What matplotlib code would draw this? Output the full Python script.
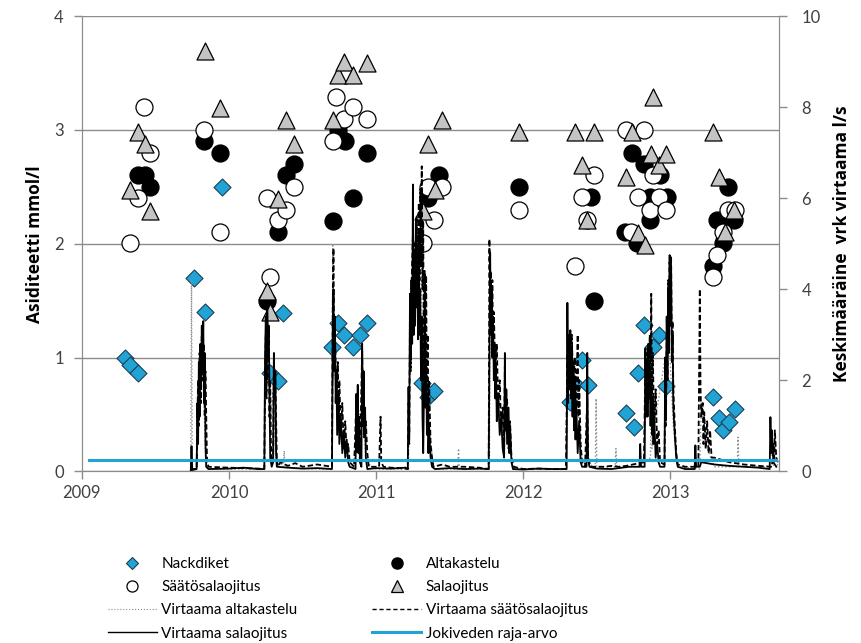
import matplotlib
matplotlib.use("Agg")
import matplotlib.pyplot as plt
from matplotlib.lines import Line2D

plt.rcParams['font.family'] = ['Lato', 'DejaVu Sans']

# acidity samples: decimal year, mmol/l (left axis)
nack_t = [2009.29, 2009.33, 2009.38, 2009.76, 2009.84, 2009.95, 2010.28, 2010.33, 2010.37,
          2010.70, 2010.74, 2010.78, 2010.84, 2010.89, 2010.94, 2011.31, 2011.35, 2011.39,
          2012.32, 2012.35, 2012.40, 2012.44, 2012.70, 2012.75, 2012.78, 2012.82, 2012.88,
          2012.92, 2012.97, 2013.29, 2013.33, 2013.36, 2013.40, 2013.44]
nack_v = [1.00, 0.93, 0.86, 1.70, 1.40, 2.50, 0.86, 0.79, 1.39,
          1.09, 1.30, 1.20, 1.09, 1.20, 1.30, 0.78, 0.65, 0.71,
          0.61, 0.77, 0.98, 0.76, 0.51, 0.39, 0.86, 1.29, 1.09,
          1.20, 0.75, 0.65, 0.47, 0.36, 0.43, 0.55]

alta_t = [2009.38, 2009.43, 2009.46, 2009.83, 2009.94, 2010.26, 2010.33, 2010.39, 2010.44,
          2010.71, 2010.74, 2010.79, 2010.84, 2010.94, 2011.35, 2011.43, 2011.97, 2012.46,
          2012.48, 2012.69, 2012.74, 2012.77, 2012.82, 2012.86, 2012.86, 2012.93, 2012.98,
          2013.29, 2013.32, 2013.36, 2013.39, 2013.43]
alta_v = [2.60, 2.60, 2.50, 2.90, 2.80, 1.50, 2.10, 2.60, 2.70,
          2.20, 3.00, 2.90, 2.40, 2.80, 2.40, 2.60, 2.50, 2.41,
          1.50, 2.10, 2.80, 2.01, 2.70, 2.41, 2.21, 2.60, 2.41,
          1.80, 2.21, 2.01, 2.50, 2.21]

saato_t = [2009.33, 2009.38, 2009.42, 2009.46, 2009.83, 2009.94, 2010.26, 2010.28, 2010.33,
           2010.39, 2010.44, 2010.71, 2010.73, 2010.78, 2010.84, 2010.94, 2011.32, 2011.35,
           2011.39, 2011.45, 2011.97, 2012.35, 2012.40, 2012.43, 2012.48, 2012.70, 2012.73,
           2012.78, 2012.82, 2012.86, 2012.88, 2012.92, 2012.97, 2013.29, 2013.32, 2013.36,
           2013.39, 2013.44]
saato_v = [2.01, 2.40, 3.20, 2.80, 3.00, 2.10, 2.40, 1.71, 2.21,
           2.30, 2.50, 2.90, 3.29, 3.10, 3.20, 3.10, 2.01, 2.50,
           2.21, 2.50, 2.30, 1.80, 2.41, 2.21, 2.60, 3.00, 2.10,
           2.41, 3.00, 2.30, 2.60, 2.41, 2.30, 1.71, 1.90, 2.10,
           2.30, 2.30]

sala_t = [2009.33, 2009.38, 2009.43, 2009.46, 2009.84, 2009.94, 2010.26, 2010.28, 2010.33,
          2010.39, 2010.44, 2010.71, 2010.74, 2010.78, 2010.84, 2010.94, 2011.32, 2011.35,
          2011.40, 2011.45, 2011.97, 2012.35, 2012.40, 2012.43, 2012.48, 2012.70, 2012.74,
          2012.78, 2012.83, 2012.87, 2012.88, 2012.92, 2012.97, 2013.29, 2013.33, 2013.37,
          2013.43]
sala_v = [2.47, 2.98, 2.88, 2.29, 3.69, 3.19, 1.58, 1.40, 2.39,
          3.09, 2.88, 3.09, 3.48, 3.60, 3.48, 3.59, 2.29, 2.88,
          2.47, 3.09, 2.98, 2.98, 2.69, 2.21, 2.98, 2.59, 2.98,
          2.09, 1.99, 2.79, 3.29, 2.69, 2.79, 2.98, 2.59, 2.10,
          2.30]

# daily mean flows l/s (right axis), turning points
q_alta = [
    (2009.74, 0.0), (2009.745, 4.2), (2009.75, 0.05), (2009.78, 0.05), (2009.79, 1.5),
    (2009.80, 2.5), (2009.81, 1.8), (2009.82, 2.8), (2009.83, 1.5), (2009.84, 0.3),
    (2009.86, 0.05), (2010.1, 0.05), (2010.24, 0.05), (2010.25, 2.5), (2010.26, 3.0),
    (2010.27, 2.6), (2010.28, 1.0), (2010.30, 1.8), (2010.32, 0.3), (2010.37, 0.1),
    (2010.375, 0.45), (2010.38, 0.1), (2010.5, 0.06), (2010.70, 0.05), (2010.705, 5.0),
    (2010.71, 2.0), (2010.72, 2.5), (2010.74, 1.0), (2010.76, 0.8), (2010.80, 0.3),
    (2010.85, 0.1), (2010.87, 1.0), (2010.91, 1.6), (2010.93, 0.2), (2011.0, 0.05),
    (2011.22, 0.05), (2011.23, 2.5), (2011.26, 4.0), (2011.30, 4.5), (2011.33, 2.0),
    (2011.36, 1.0), (2011.39, 0.05), (2011.555, 0.05), (2011.56, 0.5), (2011.565, 0.05),
    (2011.77, 0.05), (2011.775, 3.5), (2011.80, 2.5), (2011.85, 1.0), (2011.90, 0.8),
    (2011.93, 0.05), (2012.29, 0.05), (2012.30, 2.5), (2012.35, 2.2), (2012.40, 0.2),
    (2012.49, 0.1), (2012.495, 1.6), (2012.50, 0.1), (2012.625, 0.1), (2012.63, 0.5),
    (2012.635, 0.1), (2012.79, 0.1), (2012.795, 0.6), (2012.80, 0.1), (2012.865, 0.3),
    (2012.87, 3.9), (2012.875, 0.5), (2012.90, 1.2), (2012.99, 3.0), (2013.02, 1.0),
    (2013.05, 0.1), (2013.2, 0.05), (2013.21, 1.5), (2013.25, 0.5), (2013.30, 0.1),
    (2013.455, 0.1), (2013.46, 0.75), (2013.465, 0.1), (2013.70, 0.1), (2013.71, 0.5),
    (2013.73, 0.1)]

q_saato = [
    (2009.74, 0.02), (2009.78, 0.05), (2009.785, 1.2), (2009.79, 2.0), (2009.795, 1.0),
    (2009.80, 2.6), (2009.81, 1.5), (2009.815, 3.0), (2009.82, 2.0), (2009.83, 2.8),
    (2009.835, 1.2), (2009.84, 2.2), (2009.85, 0.3), (2009.86, 0.1), (2010.0, 0.08),
    (2010.1, 0.07), (2010.2, 0.06), (2010.24, 0.05), (2010.245, 2.0), (2010.25, 3.0),
    (2010.255, 1.6), (2010.26, 3.3), (2010.265, 2.5), (2010.27, 3.0), (2010.275, 1.2),
    (2010.28, 2.0), (2010.285, 0.6), (2010.29, 0.2), (2010.30, 0.3), (2010.305, 2.4),
    (2010.31, 1.6), (2010.315, 2.0), (2010.325, 0.3), (2010.33, 0.1), (2010.35, 0.2),
    (2010.4, 0.12), (2010.45, 0.18), (2010.5, 0.1), (2010.6, 0.15), (2010.70, 0.1),
    (2010.705, 3.6), (2010.71, 4.9), (2010.715, 2.5), (2010.72, 3.0), (2010.73, 1.6),
    (2010.74, 2.4), (2010.745, 1.0), (2010.75, 2.0), (2010.76, 0.8), (2010.77, 1.5),
    (2010.78, 0.5), (2010.79, 1.1), (2010.80, 0.4), (2010.81, 0.6), (2010.82, 0.2),
    (2010.85, 0.1), (2010.865, 1.5), (2010.87, 0.4), (2010.88, 1.1), (2010.89, 0.2),
    (2010.905, 2.7), (2010.91, 1.2), (2010.915, 2.0), (2010.92, 0.7), (2010.93, 1.1),
    (2010.94, 0.4), (2010.95, 0.1), (2011.02, 0.1), (2011.03, 1.2), (2011.035, 0.2),
    (2011.05, 0.1), (2011.1, 0.08), (2011.2, 0.06), (2011.215, 0.05), (2011.22, 1.5),
    (2011.225, 0.6), (2011.23, 3.5), (2011.235, 2.2), (2011.24, 4.0), (2011.25, 5.2),
    (2011.255, 3.0), (2011.26, 5.0), (2011.27, 4.0), (2011.275, 5.6), (2011.28, 3.8),
    (2011.29, 5.9), (2011.295, 4.2), (2011.30, 6.2), (2011.305, 4.5), (2011.31, 6.7),
    (2011.315, 4.0), (2011.32, 5.5), (2011.325, 2.0), (2011.33, 4.4), (2011.335, 2.5),
    (2011.34, 4.3), (2011.345, 1.5), (2011.35, 3.0), (2011.355, 0.8), (2011.36, 2.0),
    (2011.37, 0.6), (2011.38, 0.3), (2011.39, 0.1), (2011.45, 0.15), (2011.5, 0.1),
    (2011.6, 0.1), (2011.7, 0.08), (2011.765, 0.05), (2011.77, 5.1), (2011.775, 3.5),
    (2011.78, 4.4), (2011.785, 3.0), (2011.79, 4.2), (2011.795, 2.6), (2011.80, 3.5),
    (2011.81, 2.2), (2011.82, 2.8), (2011.83, 1.4), (2011.84, 2.0), (2011.85, 0.9),
    (2011.86, 1.4), (2011.87, 0.5), (2011.875, 2.3), (2011.88, 1.0), (2011.89, 1.6),
    (2011.90, 0.5), (2011.91, 1.1), (2011.92, 0.3), (2011.935, 0.1), (2012.0, 0.05),
    (2012.1, 0.06), (2012.2, 0.05), (2012.29, 0.05), (2012.30, 2.6), (2012.305, 1.8),
    (2012.31, 3.0), (2012.32, 2.2), (2012.33, 3.0), (2012.34, 1.8), (2012.35, 2.5),
    (2012.36, 1.4), (2012.37, 3.0), (2012.375, 1.2), (2012.38, 2.0), (2012.39, 0.6),
    (2012.40, 0.2), (2012.42, 0.1), (2012.435, 1.6), (2012.44, 0.3), (2012.46, 0.1),
    (2012.55, 0.1), (2012.6, 0.12), (2012.65, 0.1), (2012.7, 0.12), (2012.82, 0.2),
    (2012.83, 2.3), (2012.835, 1.2), (2012.84, 2.6), (2012.85, 1.5), (2012.86, 3.0),
    (2012.865, 1.8), (2012.87, 3.9), (2012.875, 1.5), (2012.88, 2.6), (2012.89, 1.0),
    (2012.90, 1.8), (2012.91, 0.6), (2012.92, 0.9), (2012.93, 0.2), (2012.96, 0.15),
    (2012.965, 2.0), (2012.97, 1.0), (2012.975, 3.0), (2012.98, 2.0), (2012.985, 4.2),
    (2012.99, 3.0), (2012.995, 4.6), (2013.00, 3.6), (2013.005, 4.7), (2013.01, 2.6),
    (2013.015, 3.3), (2013.02, 1.8), (2013.03, 1.0), (2013.04, 0.4), (2013.05, 0.15),
    (2013.1, 0.1), (2013.19, 0.1), (2013.195, 2.0), (2013.20, 4.0), (2013.205, 1.8),
    (2013.21, 1.2), (2013.22, 1.5), (2013.225, 0.6), (2013.23, 1.3), (2013.24, 0.5),
    (2013.25, 1.1), (2013.26, 0.4), (2013.27, 0.9), (2013.28, 0.3), (2013.30, 0.3),
    (2013.35, 0.25), (2013.4, 0.2), (2013.5, 0.15), (2013.6, 0.12), (2013.69, 0.1),
    (2013.70, 0.6), (2013.705, 0.2), (2013.71, 0.9), (2013.72, 0.3), (2013.73, 0.2)]

q_sala = [
    (2009.74, 0.0), (2009.745, 0.55), (2009.75, 0.05), (2009.78, 0.05), (2009.785, 1.5),
    (2009.79, 0.6), (2009.795, 2.4), (2009.80, 1.2), (2009.805, 2.8), (2009.81, 1.9),
    (2009.815, 3.2), (2009.82, 2.2), (2009.825, 3.3), (2009.83, 1.5), (2009.835, 2.6),
    (2009.84, 0.6), (2009.845, 0.1), (2009.86, 0.05), (2010.0, 0.06), (2010.1, 0.08),
    (2010.2, 0.05), (2010.24, 0.05), (2010.245, 2.5), (2010.25, 3.4), (2010.255, 2.0),
    (2010.26, 3.6), (2010.265, 2.8), (2010.27, 3.2), (2010.275, 1.8), (2010.28, 0.3),
    (2010.29, 0.1), (2010.30, 0.2), (2010.305, 2.6), (2010.31, 1.6), (2010.315, 2.2),
    (2010.32, 0.4), (2010.325, 0.1), (2010.4, 0.08), (2010.5, 0.06), (2010.6, 0.07),
    (2010.70, 0.05), (2010.705, 3.0), (2010.71, 4.0), (2010.715, 2.2), (2010.72, 3.4),
    (2010.725, 1.5), (2010.73, 2.2), (2010.735, 0.8), (2010.745, 1.7), (2010.75, 0.6),
    (2010.76, 1.2), (2010.77, 0.4), (2010.78, 0.9), (2010.79, 0.3), (2010.80, 0.7),
    (2010.81, 0.2), (2010.82, 0.1), (2010.86, 0.05), (2010.865, 1.7), (2010.87, 0.5),
    (2010.875, 1.9), (2010.88, 0.4), (2010.885, 1.2), (2010.89, 0.2), (2010.90, 0.1),
    (2010.905, 2.8), (2010.91, 1.0), (2010.915, 2.2), (2010.92, 0.8), (2010.925, 1.4),
    (2010.93, 0.3), (2010.94, 0.05), (2011.0, 0.07), (2011.1, 0.06), (2011.2, 0.08),
    (2011.215, 0.05), (2011.22, 1.85), (2011.225, 0.8), (2011.23, 3.9), (2011.235, 2.5),
    (2011.24, 4.2), (2011.245, 2.8), (2011.25, 6.3), (2011.255, 3.0), (2011.26, 4.8),
    (2011.265, 3.2), (2011.27, 5.5), (2011.275, 3.6), (2011.28, 4.6), (2011.285, 2.9),
    (2011.29, 5.2), (2011.295, 3.0), (2011.30, 4.0), (2011.305, 2.0), (2011.31, 3.4),
    (2011.315, 1.2), (2011.32, 0.4), (2011.33, 2.9), (2011.335, 1.4), (2011.34, 2.4),
    (2011.345, 0.8), (2011.35, 1.6), (2011.355, 0.4), (2011.36, 1.0), (2011.37, 0.3),
    (2011.38, 0.1), (2011.4, 0.05), (2011.5, 0.07), (2011.6, 0.05), (2011.7, 0.06),
    (2011.765, 0.05), (2011.775, 4.8), (2011.78, 3.0), (2011.785, 4.0), (2011.79, 2.5),
    (2011.795, 3.4), (2011.80, 2.0), (2011.805, 2.8), (2011.81, 1.6), (2011.815, 2.3),
    (2011.82, 1.1), (2011.83, 1.6), (2011.84, 0.8), (2011.85, 1.2), (2011.86, 0.5),
    (2011.87, 0.3), (2011.875, 2.6), (2011.88, 0.9), (2011.885, 1.8), (2011.89, 0.6),
    (2011.90, 1.4), (2011.905, 0.4), (2011.91, 1.0), (2011.92, 0.2), (2011.93, 0.05),
    (2012.0, 0.04), (2012.1, 0.06), (2012.2, 0.05), (2012.295, 0.05), (2012.30, 3.7),
    (2012.305, 1.5), (2012.31, 2.9), (2012.315, 1.8), (2012.32, 3.1), (2012.325, 1.6),
    (2012.33, 2.7), (2012.335, 1.2), (2012.34, 2.4), (2012.345, 0.9), (2012.35, 2.0),
    (2012.355, 0.7), (2012.36, 1.5), (2012.37, 0.4), (2012.38, 1.1), (2012.39, 0.2),
    (2012.40, 0.1), (2012.43, 0.1), (2012.435, 2.6), (2012.44, 0.3), (2012.45, 0.1),
    (2012.5, 0.06), (2012.6, 0.05), (2012.67, 0.08), (2012.72, 0.1), (2012.79, 0.1),
    (2012.795, 0.6), (2012.80, 0.1), (2012.825, 0.1), (2012.83, 2.7), (2012.835, 1.5),
    (2012.84, 2.4), (2012.845, 1.2), (2012.85, 2.8), (2012.855, 1.6), (2012.86, 2.3),
    (2012.865, 1.0), (2012.87, 2.0), (2012.875, 0.8), (2012.88, 1.6), (2012.885, 0.6),
    (2012.89, 1.2), (2012.90, 0.3), (2012.91, 0.6), (2012.92, 0.2), (2012.93, 0.1),
    (2012.96, 0.1), (2012.965, 2.5), (2012.97, 1.2), (2012.975, 3.4), (2012.98, 2.0),
    (2012.985, 4.0), (2012.99, 2.6), (2012.995, 4.75), (2013.00, 3.2), (2013.005, 4.5),
    (2013.01, 2.4), (2013.015, 3.0), (2013.02, 1.4), (2013.03, 0.8), (2013.04, 0.3),
    (2013.05, 0.1), (2013.1, 0.05), (2013.165, 0.05), (2013.17, 0.57), (2013.175, 0.1),
    (2013.2, 0.1), (2013.21, 0.2), (2013.3, 0.15), (2013.4, 0.12), (2013.5, 0.1),
    (2013.6, 0.08), (2013.675, 0.05), (2013.68, 1.19), (2013.685, 0.4), (2013.69, 0.9),
    (2013.70, 0.2), (2013.72, 0.1)]

# river water limit, mmol/l
raja_t = [2009.05, 2013.715]
raja_v = [0.1, 0.1]

years = [2009, 2010, 2011, 2012, 2013]

GREY = '#8c8c8c'
BLUE = '#22a3d6'
BOLD = ['Open Sans', 'DejaVu Sans']

fig = plt.figure(figsize=(8.62, 6.43), dpi=100)
ax1 = fig.add_axes([0.095, 0.267, 0.809, 0.708])
ax2 = ax1.twinx()

# acidity markers on the left axis
ax1.scatter(nack_t, nack_v, marker='D', s=75, facecolor=BLUE, edgecolor='#1c3f55', linewidth=0.8, zorder=3)
ax1.scatter(alta_t, alta_v, marker='o', s=150, facecolor='black', edgecolor='black', linewidth=0.9, zorder=3)
ax1.scatter(saato_t, saato_v, marker='o', s=150, facecolor='white', edgecolor='black', linewidth=0.9, zorder=3)
ax1.scatter(sala_t, sala_v, marker='^', s=150, facecolor='#c4c4c4', edgecolor='black', linewidth=0.9, zorder=3)

# flows on the right axis
t, q = zip(*q_alta)
ax2.plot(t, q, color=GREY, lw=1.0, ls=':')
t, q = zip(*q_saato)
ax2.plot(t, q, color='black', lw=1.3, ls=(0, (3, 1.5)))
t, q = zip(*q_sala)
ax2.plot(t, q, color='black', lw=1.3)
ax2.plot(raja_t, raja_v, color=BLUE, lw=2.2, transform=ax1.transData)

ax1.set_xlim(2009, 2013.74)
ax1.set_ylim(0, 4)
ax2.set_ylim(0, 10)
ax1.set_xticks(years)
ax1.set_xticklabels([str(y) for y in years])
ax1.set_yticks([0, 1, 2, 3, 4])
ax2.set_yticks([0, 2, 4, 6, 8, 10])

ax1.grid(axis='y', color=GREY, lw=1)
ax1.set_axisbelow(True)
for ax in (ax1, ax2):
    ax.spines['top'].set_visible(False)
    for s in ('left', 'right', 'bottom'):
        ax.spines[s].set_color(GREY)
    ax.tick_params(colors='#404040', labelsize=12, length=6, width=1)
    ax.tick_params(axis='both', color=GREY)
ax1.tick_params(axis='y', pad=7)
ax2.tick_params(axis='y', pad=10)

ax1.set_ylabel('Asiditeetti mmol/l', fontsize=12.5, fontweight='bold', family=BOLD, labelpad=7)
ax2.set_ylabel('Keskimääräine  vrk virtaama l/s', fontsize=12.5, fontweight='bold', family=BOLD, labelpad=9)

# legend below the plot
handles = [
    Line2D([], [], ls='none', marker='D', ms=6, mfc=BLUE, mec='#1c3f55', mew=0.8),
    Line2D([], [], ls='none', marker='o', ms=8, mfc='white', mec='black', mew=0.9),
    Line2D([], [], color=GREY, lw=0.8, ls=':'),
    Line2D([], [], color='black', lw=1.0),
    Line2D([], [], ls='none', marker='o', ms=8, mfc='black', mec='black'),
    Line2D([], [], ls='none', marker='^', ms=8, mfc='#c4c4c4', mec='black', mew=0.9),
    Line2D([], [], color='black', lw=1.0, ls=(0, (3, 2))),
    Line2D([], [], color=BLUE, lw=2.2),
]
labels = ['Nackdiket', 'Säätösalaojitus', 'Virtaama altakastelu', 'Virtaama salaojitus',
          'Altakastelu', 'Salaojitus', 'Virtaama säätösalaojitus', 'Jokiveden raja-arvo']
fig.legend(handles, labels, ncol=2, loc='upper left', bbox_to_anchor=(0.118, 0.143),
           frameon=False, fontsize=11, handlelength=3.2, handletextpad=0.3,
           columnspacing=4.9, labelspacing=0.6, borderaxespad=0)

fig.savefig('out.png', dpi=100)
